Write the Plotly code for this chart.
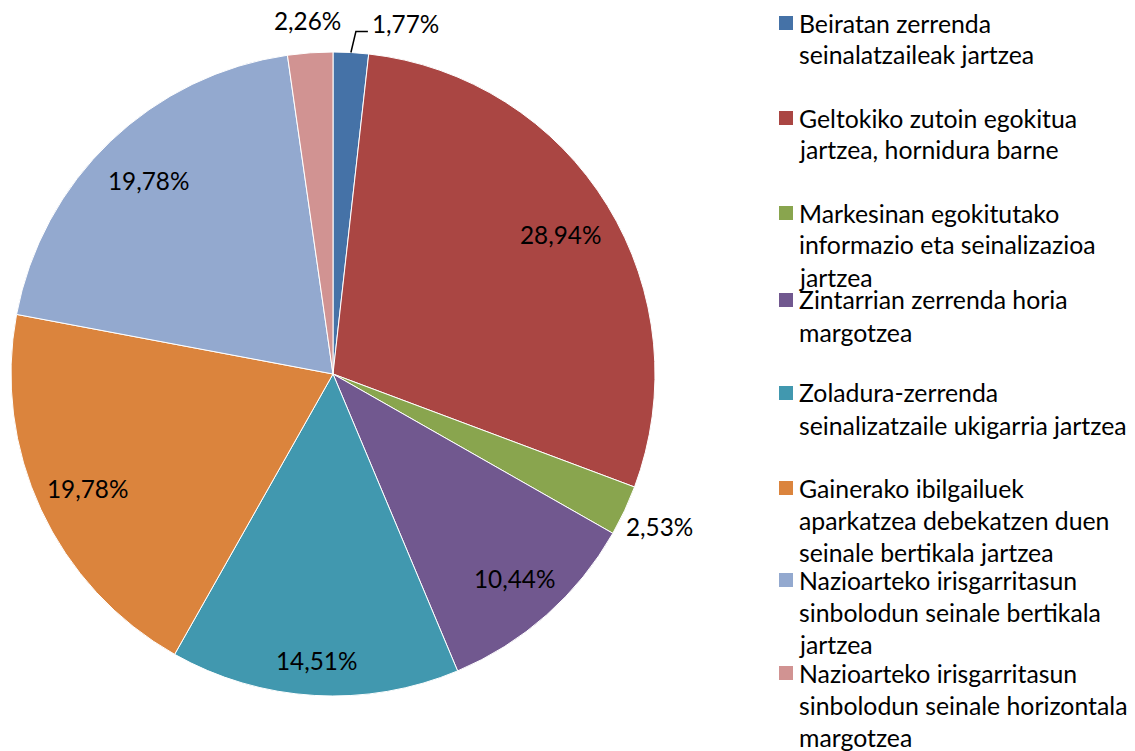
import math

import plotly.graph_objects as go

# data
categories = [
    "Beiratan zerrenda<br>seinalatzaileak jartzea",
    "Geltokiko zutoin egokitua<br>jartzea, hornidura barne",
    "Markesinan egokitutako<br>informazio eta seinalizazioa<br>jartzea",
    "Zintarrian zerrenda horia<br>margotzea",
    "Zoladura-zerrenda<br>seinalizatzaile ukigarria jartzea",
    "Gainerako ibilgailuek<br>aparkatzea debekatzen duen<br>seinale bertikala jartzea",
    "Nazioarteko irisgarritasun<br>sinbolodun seinale bertikala<br>jartzea",
    "Nazioarteko irisgarritasun<br>sinbolodun seinale horizontala<br>margotzea",
]
shares = [1.77, 28.94, 2.53, 10.44, 14.51, 19.78, 19.78, 2.26]
colors = ["#4572A7", "#AA4643", "#89A54E", "#71588F", "#4198AF", "#DB843D", "#93A9CF", "#D19392"]

# layout (pixels)
W, H = 1135, 751
CX, CY, R = 333, 374, 322
FONT = "Lato, Carlito, Calibri, sans-serif"
LABEL_SIZE = 24.3
LEGEND_SIZE = 24.8
label_r = [None, 0.83, 1.12, 0.85, 0.89, 0.84, 0.83, 1.10]
legend_top = [23, 118, 213, 300, 393, 488, 580, 673]
LINE_H = 32


def px(x):
    return x / W


def py(y):
    return 1 - y / H


fig = go.Figure(
    go.Pie(
        labels=[c.replace("<br>", " ") for c in categories],
        values=shares,
        sort=False,
        direction="clockwise",
        rotation=0,
        marker=dict(colors=colors, line=dict(color="white", width=1)),
        textinfo="none",
        hoverinfo="label+percent",
        domain=dict(x=[px(CX - R), px(CX + R)], y=[py(CY + R), py(CY - R)]),
        showlegend=False,
    )
)

# slice labels, placed from the slice mid-angles
total = sum(shares)
cum = 0.0
for i, v in enumerate(shares):
    mid = (cum + v / 2) / total * 2 * math.pi
    cum += v
    text = f"{v:.2f}%".replace(".", ",")
    sx, sy = math.sin(mid), -math.cos(mid)
    if label_r[i] is None:
        # leader line from rim up and to the right
        x0, y0 = CX + R * sx, CY + R * sy
        x1, y1 = x0 + 5, y0 - 21
        x2 = x1 + 12
        fig.add_shape(
            type="path",
            path=f"M {px(x0)} {py(y0)} L {px(x1)} {py(y1)} L {px(x2)} {py(y1)}",
            xref="paper", yref="paper",
            line=dict(color="black", width=1.5),
        )
        fig.add_annotation(
            x=px(x2 + 2), y=py(y1 - 8), xref="paper", yref="paper",
            text=text, showarrow=False, xanchor="left", yanchor="middle",
            font=dict(family=FONT, size=LABEL_SIZE, color="black"),
        )
    else:
        lx, ly = CX + R * label_r[i] * sx, CY + R * label_r[i] * sy
        fig.add_annotation(
            x=px(lx), y=py(ly), xref="paper", yref="paper",
            text=text, showarrow=False, xanchor="center", yanchor="middle",
            font=dict(family=FONT, size=LABEL_SIZE, color="black"),
        )

# legend drawn by hand so the wrapped entries line up like the original
for i, name in enumerate(categories):
    top = legend_top[i]
    fig.add_shape(
        type="rect", xref="paper", yref="paper",
        x0=px(779), x1=px(793), y0=py(top - 7), y1=py(top + 7),
        fillcolor=colors[i], line=dict(width=0),
    )
    for j, line in enumerate(name.split("<br>")):
        fig.add_annotation(
            x=px(797), y=py(top + j * LINE_H), xref="paper", yref="paper",
            text=line, showarrow=False, xanchor="left", yanchor="middle",
            font=dict(family=FONT, size=LEGEND_SIZE, color="black"),
        )

fig.update_layout(
    width=W, height=H,
    margin=dict(l=0, r=0, t=0, b=0),
    paper_bgcolor="white",
    plot_bgcolor="white",
)

fig.write_html(
    "out.html",
    config={"displayModeBar": False},
    post_script="document.body.style.margin='0';document.body.style.overflow='hidden';",
)
